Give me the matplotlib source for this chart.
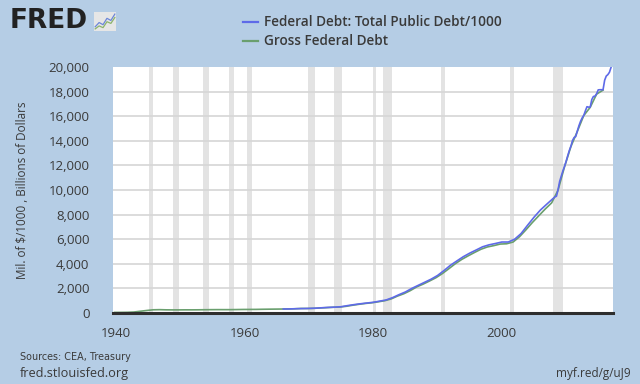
import matplotlib
matplotlib.use("Agg")
import matplotlib.pyplot as plt
import numpy as np

# ---- data (billions of dollars) ----
# Gross Federal Debt, fiscal years (plotted at fiscal-year end, ~Sep 30)
gross_years = list(range(1939, 2016))
gross_values = [48.2, 50.7, 57.5, 79.2, 142.6, 204.1, 260.1, 271.0, 257.1, 252.0,
                252.6, 256.9, 255.3, 259.1, 266.0, 270.8, 274.4, 272.7, 272.3, 279.7,
                287.5, 290.5, 292.6, 302.9, 310.3, 316.1, 322.3, 328.5, 340.4, 368.7,
                365.8, 380.9, 408.2, 435.9, 466.3, 483.9, 541.9, 629.0, 706.4, 776.6,
                829.5, 909.0, 994.8, 1137.3, 1371.7, 1564.6, 1817.4, 2120.5, 2346.0, 2601.1,
                2867.8, 3206.3, 3598.2, 4001.8, 4351.0, 4643.3, 4920.6, 5181.5, 5369.2, 5478.2,
                5605.5, 5628.7, 5769.9, 6198.4, 6760.0, 7354.7, 7905.3, 8451.4, 8950.7, 9986.1,
                11875.9, 13528.8, 14764.2, 16050.9, 16719.4, 17794.5, 18120.1]
gross_offset = 0.75

public_dates = [1966, 1967, 1968, 1969, 1970, 1971, 1972, 1973, 1974, 1975,
                1976, 1977, 1978, 1979, 1980, 1981, 1982, 1983, 1984, 1985,
                1986, 1987, 1988, 1989, 1990, 1991, 1992, 1993, 1994, 1995,
                1996, 1997, 1998, 1999, 2000, 2001, 2002, 2003, 2004, 2005,
                2006, 2007,
                2008.25, 2008.5, 2008.75, 2009.0, 2009.25, 2009.5, 2009.75, 2010.0,
                2010.25, 2010.5, 2010.75, 2011.0, 2011.25, 2011.5, 2011.75, 2012.0,
                2012.25, 2012.5, 2012.75, 2013.0, 2013.25, 2013.5, 2013.75, 2014.0,
                2014.25, 2014.5, 2014.75, 2015.0, 2015.25, 2015.5, 2015.75, 2016.0,
                2016.25, 2016.5, 2016.75, 2017.0]
public_values = [325, 330, 350, 360, 372, 390, 425, 455, 475, 510,
                 600, 680, 750, 810, 870, 965, 1060, 1250, 1490, 1710,
                 2000, 2250, 2500, 2750, 3050, 3450, 3880, 4230, 4575, 4865,
                 5120, 5380, 5540, 5650, 5770, 5770, 6000, 6460, 7130, 7780,
                 8370, 8850,
                 9437, 9492, 10025, 10700, 11127, 11545, 11910, 12311,
                 12773, 13202, 13562, 14025, 14270, 14343, 14790, 15223,
                 15582, 15856, 16066, 16433, 16771, 16738, 16738, 17352,
                 17602, 17633, 17824, 18141, 18152, 18152, 18151, 18922,
                 19264, 19381, 19573, 19977]

recessions = [(1945.1, 1945.8), (1948.9, 1949.8), (1953.5, 1954.4), (1957.6, 1958.3),
              (1960.3, 1961.1), (1969.9, 1970.9), (1973.9, 1975.2), (1980.0, 1980.5),
              (1981.5, 1982.9), (1990.5, 1991.2), (2001.2, 2001.9), (2007.9, 2009.5)]

yticks = [0, 2000, 4000, 6000, 8000, 10000, 12000, 14000, 16000, 18000, 20000]
xticks = [1940, 1960, 1980, 2000]

BG = "#B5CDE5"
BLUE = "#5E6AE8"
GREEN = "#6A9F6E"
TXT = "#3A3A3A"
FONT = "Open Sans"

fig = plt.figure(figsize=(6.4, 3.84), dpi=100, facecolor=BG)
ax = fig.add_axes([113/640, 1-313/384, 500/640, 246/384])
ax.set_facecolor("white")

for a, b in recessions:
    ax.axvspan(a, b, color="#E3E3E3", lw=0, zorder=0)
for y in yticks[1:-1]:
    ax.axhline(y, color="#D6D6D6", lw=1.2, zorder=1)

ax.plot([y + gross_offset for y in gross_years], gross_values, color=GREEN, lw=1.2, zorder=3)
ax.plot(public_dates, public_values, color=BLUE, lw=1.2, zorder=4)

ax.set_xlim(1939.5, 2017.3)
ax.set_ylim(0, 20000)
for s in ["top", "right", "left"]:
    ax.spines[s].set_visible(False)
ax.spines["bottom"].set_color("#2E2E2E")
ax.spines["bottom"].set_linewidth(2.2)
ax.spines["bottom"].set_zorder(5)

ax.set_yticks(yticks)
ax.set_yticklabels([f"{v:,}" for v in yticks], fontfamily=FONT, fontsize=9.5, color=TXT)
ax.set_xticks(xticks)
ax.set_xticklabels([str(v) for v in xticks], fontfamily=FONT, fontsize=9.5, color=TXT)
ax.tick_params(axis="y", length=0, pad=17)
ax.tick_params(axis="x", length=0, pad=10)

fig.text(23/640, 1-190/384, "Mil. of $/1000 , Billions of Dollars", rotation=90,
         ha="center", va="center", fontfamily=FONT, fontsize=8.4, color=TXT)

# legend
lx0, lx1 = 243/640, 258/640
for ypix, col, lab in [(22, BLUE, "Federal Debt: Total Public Debt/1000"),
                       (41, GREEN, "Gross Federal Debt")]:
    yy = 1 - ypix/384
    fig.add_artist(plt.Line2D([lx0, lx1], [yy, yy], color=col, lw=1.6,
                              transform=fig.transFigure))
    fig.text(264/640, yy, lab, ha="left", va="center", fontfamily=FONT,
             fontweight="semibold", fontsize=9.8, color=TXT)

# FRED logo
fig.text(10/640, 1-21/384, "FRED", ha="left", va="center", fontfamily="DejaVu Sans",
         fontweight="heavy", fontsize=19, color="#222222")
iax = fig.add_axes([94/640, 1-31/384, 22/640, 19/384])
iax.set_facecolor("#E6E6E6")
iax.set_xticks([]); iax.set_yticks([])
for s in iax.spines.values():
    s.set_visible(False)
iax.plot([0, 1, 2, 3, 4, 5], [1, 2, 1.5, 3, 2.5, 4], color="#6C86D8", lw=0.9)
iax.plot([0, 1, 2, 3, 4, 5], [0.5, 1.2, 0.8, 2.2, 1.8, 3.2], color="#8CB46C", lw=0.9)
iax.set_xlim(-0.3, 5.3); iax.set_ylim(0, 4.5)

# footer
fig.text(20/640, 1-357/384, "Sources: CEA, Treasury", ha="left", va="center",
         fontfamily="Liberation Sans Narrow", fontsize=6.9, color=TXT)
fig.text(20/640, 1-373/384, "fred.stlouisfed.org", ha="left", va="center",
         fontfamily=FONT, fontsize=9.2, color=TXT)
fig.text(631/640, 1-373/384, "myf.red/g/uJ9", ha="right", va="center",
         fontfamily=FONT, fontsize=8.5, color=TXT)

fig.savefig("out.png", dpi=100, facecolor=BG)
